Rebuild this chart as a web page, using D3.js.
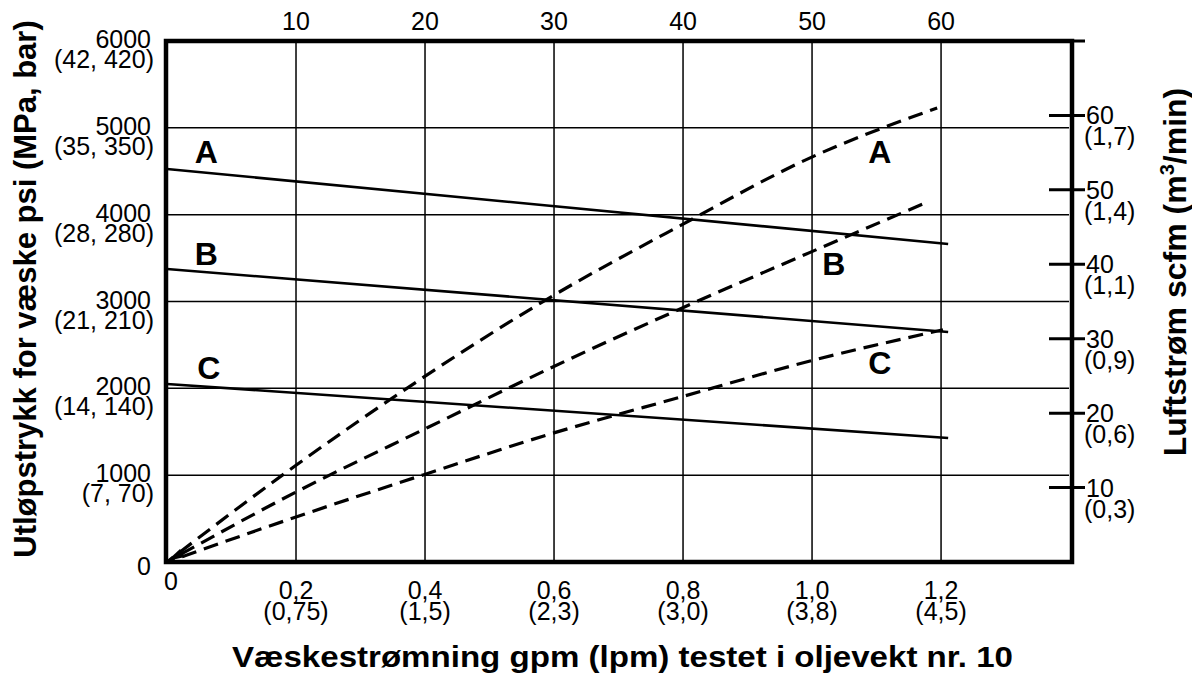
<!DOCTYPE html>
<html><head><meta charset="utf-8">
<script src="https://cdn.jsdelivr.net/npm/d3@7"></script>
<style>
body{margin:0;background:#fff}
svg{display:block}
text{font-family:"Liberation Sans",Arial,Helvetica,sans-serif;fill:#000}
</style>
</head><body>
<svg id="c" width="1192" height="681"></svg>
<script>
// ---- data ----
const psiTicks = [0, 1000, 2000, 3000, 4000, 5000, 6000];
const psiLabels = ["0", "1000", "2000", "3000", "4000", "5000", "6000"];
const mpaBarLabels = ["", "(7, 70)", "(14, 140)", "(21, 210)", "(28, 280)", "(35, 350)", "(42, 420)"];
const gpmTicks = [0, 0.2, 0.4, 0.6, 0.8, 1.0, 1.2];
const gpmLabels = ["0", "0,2", "0,4", "0,6", "0,8", "1,0", "1,2"];
const lpmLabels = ["", "(0,75)", "(1,5)", "(2,3)", "(3,0)", "(3,8)", "(4,5)"];
const topTicks = [10, 20, 30, 40, 50, 60];
const scfmTicks = [10, 20, 30, 40, 50, 60, 70];
const scfmLabels = ["10", "20", "30", "40", "50", "60", ""];
const m3minLabels = ["(0,3)", "(0,6)", "(0,9)", "(1,1)", "(1,4)", "(1,7)", ""];

const seriesNames = ["A", "B", "C"];
// solid lines: outlet fluid pressure (psi) vs fluid flow (gpm)
const solidGpm = [0, 1.211];
const solidA = [4526, 3662];
const solidB = [3374, 2649];
const solidC = [2050, 1428];
// dashed curves: air flow (scfm) vs fluid flow (gpm)
const dashAGpm = [0, 0.2, 0.392, 0.589, 0.8, 0.997, 1.194];
const dashA = [0, 13.0, 24.5, 35.3, 45.4, 54.3, 61.0];
const dashBGpm = [0, 0.2, 0.405, 0.598, 0.798, 0.997, 1.18];
const dashB = [0, 9.4, 18.1, 26.2, 34.1, 41.6, 48.4];
const dashCGpm = [0, 0.2, 0.397, 0.598, 0.798, 0.997, 1.203];
const dashC = [0, 6.05, 11.7, 17.3, 22.2, 27.0, 31.2];
// label anchors (gpm, psi) for solid, (gpm, scfm) for dashed
const solidLabelGpm = [0.043, 0.043, 0.047];
const solidLabelPsi = [4595, 3420, 2111];
const dashLabelGpm = [1.087, 1.016, 1.087];
const dashLabelScfm = [53.6, 38.6, 25.3];

// ---- scales ----
const L = 167, R = 1072, T = 41, B = 562;
const x = d3.scaleLinear().domain([0, 1.403]).range([L, R]);
const xTop = d3.scaleLinear().domain([0, 70.15]).range([L, R]);
const y = d3.scaleLinear().domain([0, 6000]).range([B, T]);
const yR = d3.scaleLinear().domain([0, 70]).range([B, T]);

const svg = d3.select("#c");

// gridlines
svg.append("g").selectAll("line").data(gpmTicks.filter(d => d > 0)).join("line")
  .attr("x1", d => x(d)).attr("x2", d => x(d)).attr("y1", T).attr("y2", B)
  .attr("stroke", "#000").attr("stroke-width", 1.5);
svg.append("g").selectAll("line").data(psiTicks.filter(d => d > 0 && d < 6000)).join("line")
  .attr("x1", L).attr("x2", R - 3).attr("y1", d => y(d)).attr("y2", d => y(d))
  .attr("stroke", "#000").attr("stroke-width", 1.5);

// solid lines
const solidLine = d3.line().x(d => x(d[0])).y(d => y(d[1]));
[solidA, solidB, solidC].forEach(s => {
  svg.append("path").datum(solidGpm.map((g, i) => [g, s[i]]))
    .attr("d", solidLine).attr("fill", "none").attr("stroke", "#000").attr("stroke-width", 2.6);
});

// dashed curves
const dashLine = d3.line().x(d => x(d[0])).y(d => yR(d[1])).curve(d3.curveMonotoneX);
[[dashAGpm, dashA], [dashBGpm, dashB], [dashCGpm, dashC]].forEach(([g, v]) => {
  svg.append("path").datum(g.map((gg, i) => [gg, v[i]]))
    .attr("d", dashLine).attr("fill", "none").attr("stroke", "#000")
    .attr("stroke-width", 3.2).attr("stroke-dasharray", "15,8").attr("stroke-dashoffset", -16);
});
// arrowhead at origin
const ox = x(0), oy = y(0);
svg.append("path")
  .attr("d", `M${ox},${oy - 1} L${ox + 13},${oy - 13} L${ox + 18},${oy - 5} Z`)
  .attr("fill", "#000");

// frame
svg.append("rect").attr("x", L - 1).attr("y", T).attr("width", R - L + 1).attr("height", B - T)
  .attr("fill", "none").attr("stroke", "#000").attr("stroke-width", 4.5);

// right axis ticks
svg.append("g").selectAll("line").data(scfmTicks).join("line")
  .attr("x1", R - 23).attr("x2", R + 13).attr("y1", d => yR(d)).attr("y2", d => yR(d))
  .attr("stroke", "#000").attr("stroke-width", 3);

// left axis labels (two-line, one text element each)
const gl = svg.append("g").attr("font-size", 25).attr("text-anchor", "end");
gl.selectAll("text").data(psiTicks).join("text")
  .each(function (d, i) {
    const t = d3.select(this);
    t.append("tspan").attr("x", 151).attr("y", y(d) + (d === 0 ? 13 : 7)).text(psiLabels[i]);
    if (mpaBarLabels[i]) t.append("tspan").attr("x", 154).attr("y", y(d) + 27).text(mpaBarLabels[i]);
  });

// bottom axis labels
const gb = svg.append("g").attr("font-size", 25).attr("text-anchor", "middle");
gb.selectAll("text").data(gpmTicks).join("text")
  .each(function (d, i) {
    const t = d3.select(this);
    t.append("tspan").attr("x", d === 0 ? x(d) + 4 : x(d)).attr("y", d === 0 ? B + 28 : B + 37).text(gpmLabels[i]);
    if (lpmLabels[i]) t.append("tspan").attr("x", x(d)).attr("y", B + 58).text(lpmLabels[i]);
  });

// top axis labels
svg.append("g").attr("font-size", 25).attr("text-anchor", "middle")
  .selectAll("text").data(topTicks).join("text")
  .attr("x", d => xTop(d)).attr("y", 30).text(d => d);

// right axis labels
const gr = svg.append("g").attr("font-size", 25).attr("text-anchor", "start");
gr.selectAll("text").data(scfmTicks.filter((d, i) => scfmLabels[i])).join("text")
  .each(function (d) {
    const i = scfmTicks.indexOf(d);
    const t = d3.select(this);
    t.append("tspan").attr("x", R + 14).attr("y", yR(d) + 9).text(scfmLabels[i]);
    t.append("tspan").attr("x", R + 12).attr("y", yR(d) + 30).text(m3minLabels[i]);
  });

// series letters
const gs = svg.append("g").attr("font-size", 32).attr("font-weight", "bold");
gs.selectAll("text.s").data(seriesNames).join("text").attr("class", "s")
  .attr("x", (d, i) => x(solidLabelGpm[i])).attr("y", (d, i) => y(solidLabelPsi[i])).text(d => d);
gs.selectAll("text.d").data(seriesNames).join("text").attr("class", "d")
  .attr("x", (d, i) => x(dashLabelGpm[i])).attr("y", (d, i) => yR(dashLabelScfm[i])).text(d => d);

// axis titles
svg.append("text").attr("x", 232).attr("y", 667).attr("font-size", 30).attr("font-weight", "bold")
  .attr("textLength", 781).attr("lengthAdjust", "spacingAndGlyphs")
  .text("Væskestrømning gpm (lpm) testet i oljevekt nr. 10");
svg.append("text").attr("transform", "translate(36,289) rotate(-90)").attr("text-anchor", "middle")
  .attr("font-size", 31).attr("font-weight", "bold")
  .text("Utløpstrykk for væske psi (MPa, bar)");
const rt = svg.append("text").attr("transform", "translate(1186,272) rotate(-90)").attr("text-anchor", "middle")
  .attr("font-size", 32).attr("font-weight", "bold");
rt.append("tspan").text("Luftstrøm scfm (m");
rt.append("tspan").attr("font-size", 20).attr("dy", -12).text("3");
rt.append("tspan").attr("dy", 12).text("/min)");
</script>
</body></html>
